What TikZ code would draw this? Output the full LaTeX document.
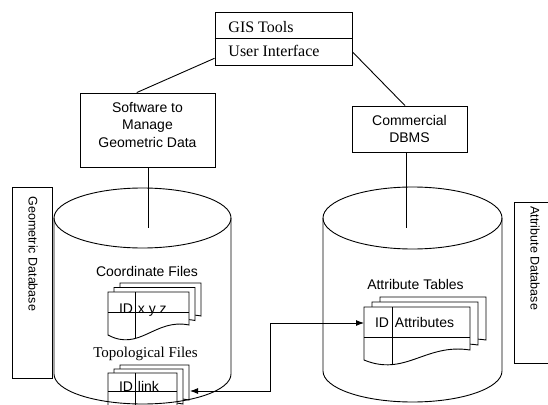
\documentclass[tikz,border=0pt]{standalone}
\usepackage{fontspec}
\setmainfont{Liberation Serif}
\setsansfont{Liberation Sans}
\usetikzlibrary{arrows.meta}

% page with a wavy lower edge: x, top, width, left height
\newcommand{\pagepath}[4]{(#1,#2) -- (#1+#3,#2) -- (#1+#3,#2+#4-10)
  .. controls (#1+0.58*#3,#2+#4-17) and (#1+0.39*#3,#2+#4+17) .. (#1,#2+#4) -- cycle}
% three pages, back to front: x, top, width, height, dx, dy
\newcommand{\pagestack}[6]{%
  \filldraw[fill=white] \pagepath{#1+2*#5}{#2-2*#6}{#3}{#4};
  \filldraw[fill=white] \pagepath{#1+#5}{#2-#6}{#3}{#4};
  \filldraw[fill=white] \pagepath{#1}{#2}{#3}{#4};}

\begin{document}
\begin{tikzpicture}[x=1pt,y=-1pt,line width=0.9pt,
  box/.style={draw,inner sep=0pt},
  sanstext/.style={font=\sffamily\fontsize{14}{17.5}\selectfont,inner sep=0pt,align=center},
  seriftext/.style={font=\fontsize{16}{19}\selectfont,inner sep=0pt},
  sidetext/.style={font=\sffamily\fontsize{12.5}{15}\selectfont,rotate=-90,anchor=west,inner sep=0pt},
  link/.style={{Latex[length=8pt,width=6pt]}-{Latex[length=8pt,width=6pt]}}]
  \useasboundingbox (0,0) rectangle (548,404);
  \clip (0,0) rectangle (548,404);

  % tools and programs
  \node[box,minimum width=137pt,minimum height=53pt] (gis) at (283.5,38.5) {};
  \draw (gis.west) -- (gis.east);
  \node[seriftext,anchor=west] (gistools) at (228,27.5) {GIS Tools};
  \node[seriftext,anchor=west] (userif) at (228,51) {User Interface};
  \node[box,minimum width=135pt,minimum height=74pt] (soft) at (147.5,130) {};
  \node[sanstext] (softtext) at (147.5,125) {Software to\\Manage\\Geometric Data};
  \node[box,sanstext,minimum width=115pt,minimum height=46pt] (dbms) at (409.5,129) {Commercial\\DBMS};
  \draw (gis.196) -- (soft.106);
  \draw (gis.-11) -- (dbms.101);

  % side labels
  \node[box,minimum width=40pt,minimum height=191pt] (geodb) at (32.5,282.5) {};
  \node[sidetext] (geodbtext) at (33,196) {Geometric Database};
  \node[box,minimum width=42pt,minimum height=161pt] (attdb) at (535,282.5) {};
  \node[sidetext] (attdbtext) at (535,206) {Attribute Database};

  % geometric files
  \node[sanstext,anchor=base] (coordlabel) at (147,276) {Coordinate Files};
  \pagestack{108}{292}{81}{43}{6}{4.5}
  \begin{scope}
    \clip \pagepath{108}{292}{81}{43};
    \draw (108,312) -- (189,312);
    \draw (135,292) -- (135,345);
  \end{scope}
  \node[sanstext,anchor=base east] (cid) at (133.5,313) {ID};
  \node[sanstext,anchor=base west] (cxyz) at (137.5,313) {x y z};

  \node[font=\fontsize{15}{18}\selectfont,inner sep=0pt,anchor=base] (topolabel) at (145.5,357) {Topological Files};
  \pagestack{108}{373}{69}{45}{6}{4}
  \begin{scope}
    \clip \pagepath{108}{373}{69}{45};
    \draw (108,391) -- (177,391);
    \draw (135,373) -- (135,425);
  \end{scope}
  \node[sanstext,anchor=base east] (tid) at (133.5,391.5) {ID};
  \node[sanstext,anchor=base west] (tlink) at (137.5,391.5) {link};

  % attribute files
  \node[sanstext,anchor=base] (attlabel) at (415.5,289) {Attribute Tables};
  \pagestack{364}{307}{106}{53}{8}{5}
  \begin{scope}
    \clip \pagepath{364}{307}{106}{53};
    \draw (364,337) -- (470,337);
    \draw (392,307) -- (392,380);
  \end{scope}
  \node[sanstext,anchor=base east] (aid) at (389.5,327) {ID};
  \node[sanstext,anchor=base west] (aattr) at (394.5,327) {Attributes};

  % databases
  \draw (142.5,218) ellipse [x radius=88.5pt,y radius=30pt];
  \draw (54,218) -- (54,374) arc [start angle=180,end angle=360,x radius=88.5pt,y radius=30pt] -- (231,218);
  \draw (412.5,218) ellipse [x radius=89.5pt,y radius=31pt];
  \draw (323,218) -- (323,371) arc [start angle=180,end angle=360,x radius=89.5pt,y radius=31pt] -- (502,218);
  \coordinate (geotop) at (148,228);
  \coordinate (atttop) at (406,228);
  \draw (geotop |- soft.south) -- (geotop);
  \draw (atttop |- dbms.south) -- (atttop);

  % key link
  \coordinate (attin) at (364,323);
  \coordinate (topoin) at (190,391);
  \coordinate (elbow) at (270,391);
  \draw[link] (attin) -| (elbow) -- (topoin);
\end{tikzpicture}
\end{document}
